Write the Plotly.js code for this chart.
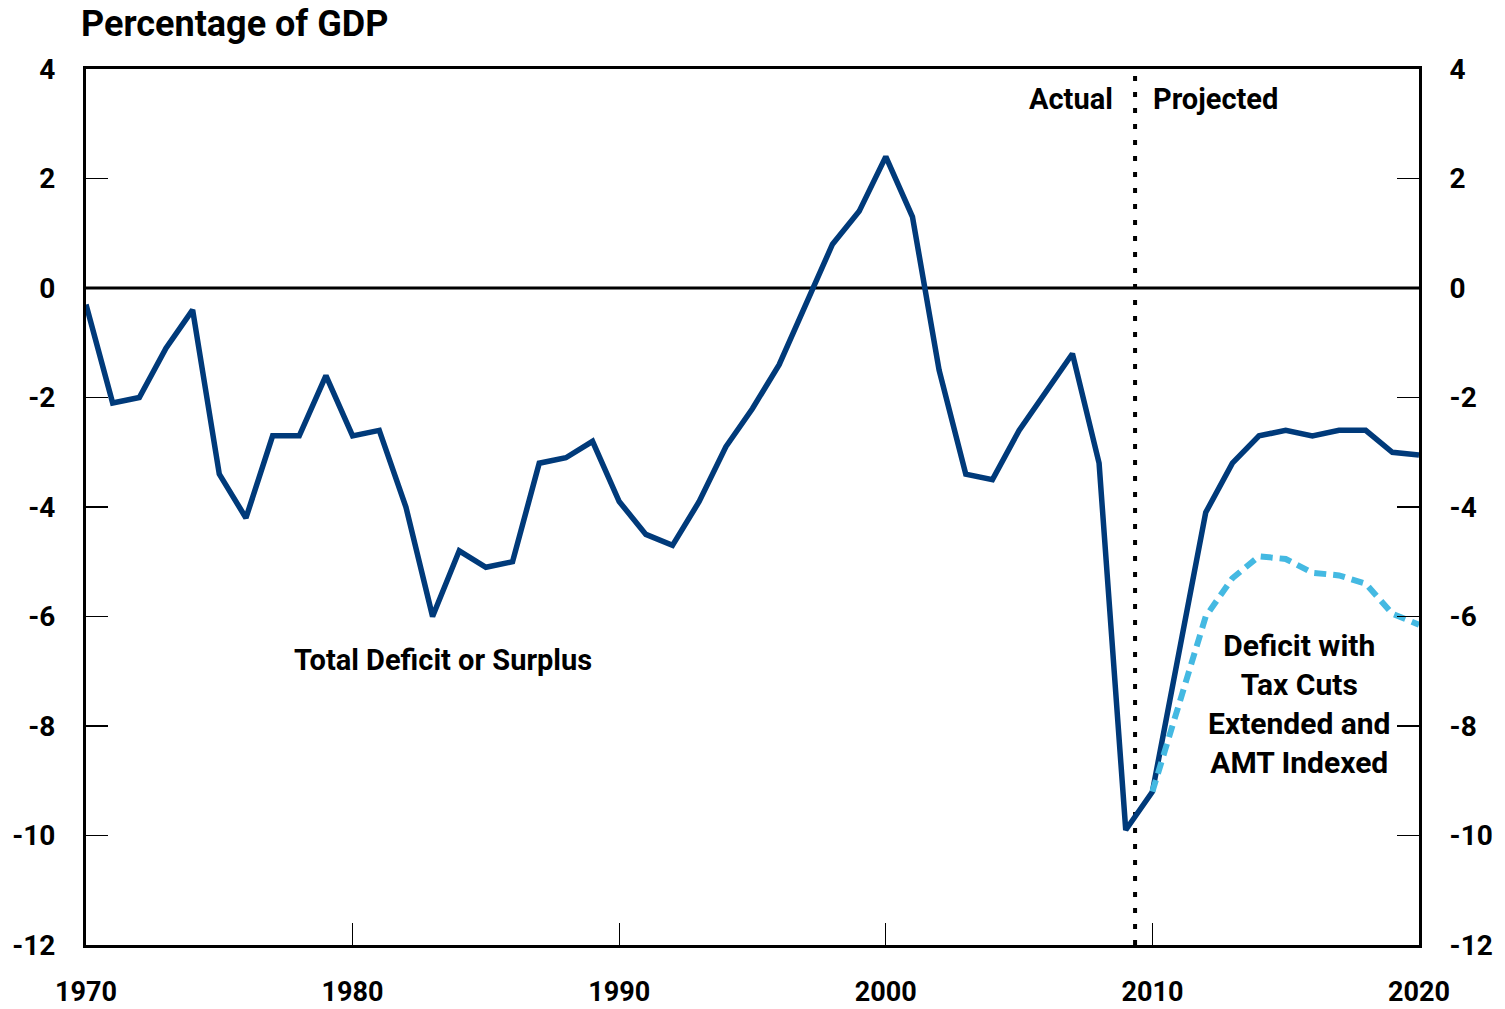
<!DOCTYPE html>
<html><head><meta charset="utf-8">
<script src="https://cdn.plot.ly/plotly-3.0.1.min.js"></script>
<style>body{margin:0;background:#fff}#c{width:1505px;height:1009px}</style>
</head><body><div id="c"></div>
<script>
const years = [];
for (let y = 1970; y <= 2020; y++) years.push(y);
const totalDeficit = [-0.3,-2.1,-2.0,-1.1,-0.4,-3.4,-4.2,-2.7,-2.7,-1.6,
  -2.7,-2.6,-4.0,-6.0,-4.8,-5.1,-5.0,-3.2,-3.1,-2.8,
  -3.9,-4.5,-4.7,-3.9,-2.9,-2.2,-1.4,-0.3,0.8,1.4,
  2.4,1.3,-1.5,-3.4,-3.5,-2.6,-1.9,-1.2,-3.2,-9.9,
  -9.2,-6.6,-4.1,-3.2,-2.7,-2.6,-2.7,-2.6,-2.6,-3.0,-3.05];
const altYears = [2010,2011,2012,2013,2014,2015,2016,2017,2018,2019,2020];
const altDeficit = [-9.2,-7.6,-6.0,-5.3,-4.9,-4.95,-5.2,-5.25,-5.4,-5.95,-6.15];
const yTicks = [4,2,0,-2,-4,-6,-8,-10,-12];
const xTicks = [1970,1980,1990,2000,2010,2020];
const divider = 2009.35;

const FONT = 'Roboto,"Liberation Sans",sans-serif';
const traces = [
  {x: years, y: totalDeficit, mode: 'lines', line: {color: '#003a7a', width: 5.5}, hoverinfo: 'skip'},
  {x: altYears, y: altDeficit, mode: 'lines', line: {color: '#44b9e2', width: 6, dash: '12px,7px'}, hoverinfo: 'skip'},
  {x: [1970], y: [0], yaxis: 'y2', mode: 'markers', marker: {opacity: 0}, hoverinfo: 'skip'}
];
const axisY = {
  range: [-12, 4], tickvals: yTicks, ticktext: yTicks.map(String),
  ticks: 'inside', ticklen: 22, tickwidth: 1.2, tickcolor: '#000',
  showgrid: false, zeroline: false, showline: true, linecolor: '#000', linewidth: 3,
  tickfont: {family: FONT, size: 28, color: '#000', weight: 'bold'}, fixedrange: true
};
const layout = {
  width: 1505, height: 1009,
  margin: {l: 86, r: 86, t: 69, b: 64},
  paper_bgcolor: '#fff', plot_bgcolor: '#fff', showlegend: false,
  xaxis: {range: [1970, 2020], tickvals: xTicks, ticktext: xTicks.map(String),
    ticks: 'inside', ticklen: 22, tickwidth: 1.2, tickcolor: '#000',
    showgrid: false, zeroline: false, showline: true, mirror: true, linecolor: '#000', linewidth: 3,
    tickfont: {family: FONT, size: 27, color: '#000', weight: 'bold'}, ticklabelstandoff: 21},
  yaxis: Object.assign({}, axisY, {side: 'left', ticklabelstandoff: 22}),
  yaxis2: Object.assign({}, axisY, {side: 'right', overlaying: 'y', ticklabelstandoff: 22}),
  shapes: [
    {type: 'line', xref: 'x', yref: 'y', x0: 1970, x1: 2020, y0: 0, y1: 0, line: {color: '#000', width: 3}, layer: 'below'},
    {type: 'line', xref: 'x', yref: 'paper', x0: divider, x1: divider, y0: 0, y1: 1, line: {color: '#000', width: 4, dash: '5px,11px'}, layer: 'below'}
  ],
  annotations: [
    {text: 'Percentage of GDP', xref: 'paper', yref: 'paper', x: -0.005, y: 1.0, xanchor: 'left', yanchor: 'bottom', yshift: 22, showarrow: false,
     font: {family: FONT, size: 36, color: '#000', weight: 'bold'}},
    {text: 'Actual', xref: 'x', yref: 'y', x: divider, y: 3.45, xanchor: 'right', xshift: -20, showarrow: false,
     font: {family: FONT, size: 29, color: '#000', weight: 'bold'}},
    {text: 'Projected', xref: 'x', yref: 'y', x: divider, y: 3.45, xanchor: 'left', xshift: 16, showarrow: false,
     font: {family: FONT, size: 29, color: '#000', weight: 'bold'}},
    {text: 'Total Deficit or Surplus', xref: 'x', yref: 'y', x: 1983.4, y: -6.8, showarrow: false,
     font: {family: FONT, size: 29, color: '#000', weight: 'bold'}},
    {text: 'Deficit with<br>Tax Cuts<br>Extended and<br>AMT Indexed', xref: 'x', yref: 'y', x: 2015.5, y: -7.6, showarrow: false,
     align: 'center', font: {family: FONT, size: 30, color: '#000', weight: 'bold'}}
  ]
};
Plotly.newPlot('c', traces, layout, {staticPlot: true, displayModeBar: false});
</script></body></html>
